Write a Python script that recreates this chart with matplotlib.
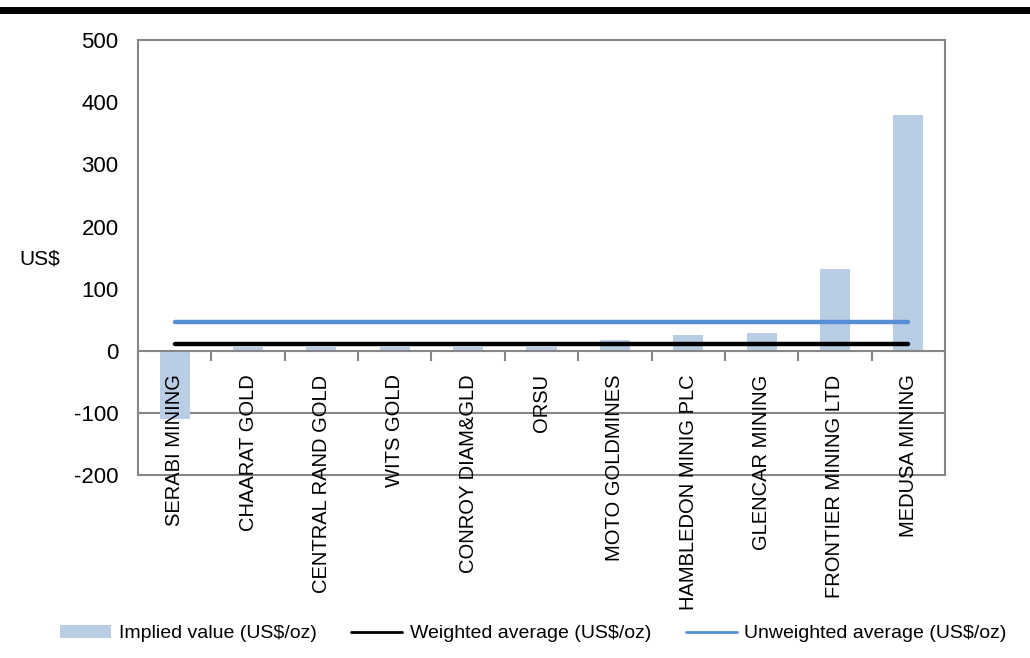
import matplotlib.pyplot as plt
from matplotlib.lines import Line2D
import numpy as np

plt.rcParams['font.family'] = ['Liberation Sans', 'DejaVu Sans']
plt.rcParams['axes.unicode_minus'] = False

companies = ["SERABI MINING", "CHAARAT GOLD", "CENTRAL RAND GOLD", "WITS GOLD",
             "CONROY DIAM&GLD", "ORSU", "MOTO GOLDMINES", "HAMBLEDON MINIG PLC",
             "GLENCAR MINING", "FRONTIER MINING LTD", "MEDUSA MINING"]
implied = [-110, 6, 6, 6, 6, 6, 18, 26, 29, 132, 379]
weighted = [11] * len(companies)
unweighted = [46] * len(companies)

fig = plt.figure(figsize=(10.3, 6.58), dpi=100)
ax = fig.add_axes([0.134, 0.278, 0.7835, 0.661])

x = np.arange(len(companies))
gray = "#868686"

ax.bar(x, implied, width=0.41, color="#b9cde5", label="Implied value (US$/oz)", zorder=2)
ax.plot(x, weighted, color="black", lw=3.2, solid_capstyle="round",
        label="Weighted average (US$/oz)", zorder=3)
ax.plot(x, unweighted, color="#558ed5", lw=3.2, solid_capstyle="round",
        label="Unweighted average (US$/oz)", zorder=3)

ax.set_xlim(-0.5, len(companies) - 0.5)
ax.set_ylim(-200, 500)
ax.set_yticks(range(-200, 501, 100))

# category axis sits on zero
ax.spines["bottom"].set_position(("data", 0))
for s in ["left", "right", "top", "bottom"]:
    ax.spines[s].set_color(gray)
    ax.spines[s].set_linewidth(1.5)
ax.axhline(-100, color=gray, lw=1.5, zorder=1)
ax.axhline(-200, color=gray, lw=1.5, zorder=1, clip_on=False)

ax.set_xticks(x)
ax.set_xticklabels(companies, rotation=90, fontsize=14.5)
ax.set_xticks(np.arange(-0.5, len(companies)), minor=True)
ax.tick_params(axis="x", which="major", length=0, pad=17)
ax.tick_params(axis="x", which="minor", length=7, width=1.5, color=gray, direction="out")
ax.tick_params(axis="y", length=0, labelsize=16, pad=14)
ax.xaxis.set_zorder(5)

fig.text(0.019, 0.607, "US$", fontsize=15, va="center")

# heavy rule at the top
fig.add_artist(Line2D([0, 1], [0.985, 0.985], color="black", lw=5, transform=fig.transFigure))

handles, labels = ax.get_legend_handles_labels()
order = [2, 0, 1]
leg = ax.legend([handles[i] for i in order], [labels[i] for i in order],
                loc="center", bbox_to_anchor=(0.518, 0.037), bbox_transform=fig.transFigure,
                ncol=3, frameon=False, fontsize=14, handlelength=2.6, columnspacing=1.8,
                handletextpad=0.4)
for h in leg.get_lines():
    h.set_linewidth(2)

fig.savefig("out.png", dpi=100)
